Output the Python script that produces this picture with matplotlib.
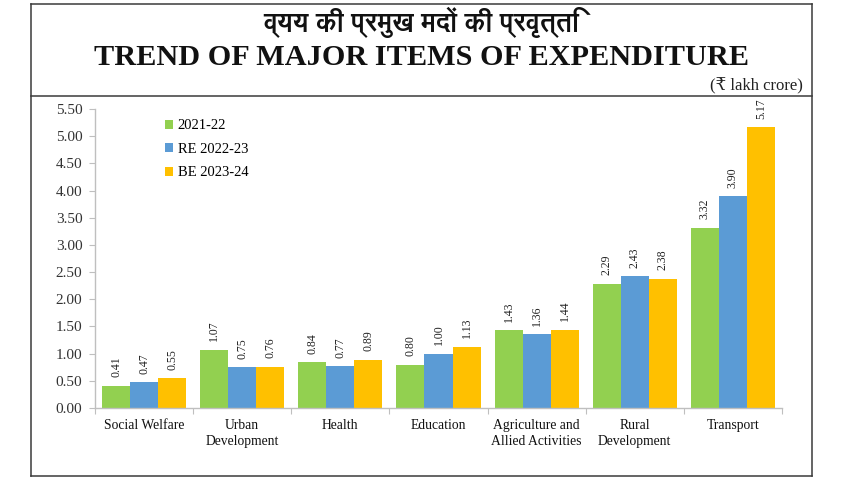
import matplotlib
matplotlib.use("Agg")
import matplotlib.pyplot as plt
from matplotlib import font_manager
from matplotlib.ft2font import FT2Font
from matplotlib.patches import Patch
from matplotlib.lines import Line2D
import numpy as np

categories = ["Social Welfare", "Urban\nDevelopment", "Health", "Education",
              "Agriculture and\nAllied Activities", "Rural\nDevelopment", "Transport"]
series_names = ["2021-22", "RE 2022-23", "BE 2023-24"]
v_2021 = [0.41, 1.07, 0.84, 0.80, 1.43, 2.29, 3.32]
v_re2223 = [0.47, 0.75, 0.77, 1.00, 1.36, 2.43, 3.90]
v_be2324 = [0.55, 0.76, 0.89, 1.13, 1.44, 2.38, 5.17]
yticks = [0.00, 0.50, 1.00, 1.50, 2.00, 2.50, 3.00, 3.50, 4.00, 4.50, 5.00, 5.50]
title_hi = "व्यय की प्रमुख मदों की प्रवृत्ति"
title_en = "TREND OF MAJOR ITEMS OF EXPENDITURE"
unit_text = "(₹ lakh crore)"

colors = ["#92D050", "#5B9BD5", "#FFC000"]

def find_font(ch):
    best = None
    for f in font_manager.fontManager.ttflist:
        try:
            ft = FT2Font(f.fname)
            if ord(ch) in ft.get_charmap():
                if f.weight in ("bold", 700) or (isinstance(f.weight, int) and f.weight >= 600):
                    return f.name
                if best is None:
                    best = f.name
        except Exception:
            pass
    return best

deva = find_font("व")
serif = ["Liberation Serif", "DejaVu Serif", "DejaVu Sans"]
hi_family = ([deva] if deva else []) + ["DejaVu Sans"]

plt.rcParams["font.family"] = serif

fig = plt.figure(figsize=(8.5, 4.78), dpi=100)
W, H = 850, 478

def fx(x):
    return x / W

def fy(y):
    return 1 - y / H

# frame
frame_col = "#3a3a3a"
for (x0, y0, x1, y1) in [(31, 4, 812, 4), (31, 476, 812, 476), (31, 4, 31, 476),
                         (812, 4, 812, 476), (31, 96, 812, 96)]:
    fig.add_artist(Line2D([fx(x0), fx(x1)], [fy(y0), fy(y1)], color=frame_col,
                          lw=1.1, transform=fig.transFigure))

fig.text(fx(421), fy(22), title_hi, ha="center", va="center", fontsize=19,
         fontweight="bold", family=hi_family, color="#111111")
fig.text(fx(421), fy(57.5), title_en, ha="center", va="center", fontsize=21.8,
         fontweight="bold", color="#111111")
fig.text(fx(803), fy(86), unit_text, ha="right", va="center", fontsize=12,
         family=serif, color="#222222")

ax = fig.add_axes([fx(95), fy(408), fx(782) - fx(95), fy(109) - fy(408)])

x = np.arange(len(categories))
bw = 0.286
series = [v_2021, v_re2223, v_be2324]
for i, (vals, c, name) in enumerate(zip(series, colors, series_names)):
    pos = x + (i - 1) * bw
    bars = ax.bar(pos, vals, width=bw, color=c, label=name, zorder=2)
    for b, v in zip(bars, vals):
        ax.annotate(f"{v:.2f}", (b.get_x() + b.get_width() / 2, v),
                    xytext=(0, 6), textcoords="offset points", rotation=90,
                    ha="center", va="bottom", fontsize=8.5, color="#222222")

ax.set_xlim(-0.5, len(categories) - 0.5)
ax.set_ylim(0, 5.5)
ax.set_yticks(yticks)
ax.set_yticklabels([f"{t:.2f}" for t in yticks], fontsize=11, color="#333333")
ax.set_xticks(x)
ax.set_xticklabels(categories, fontsize=9.8, color="#111111", linespacing=1.25)
ax.set_xticks(np.arange(-0.5, len(categories), 1.0), minor=True)
ax.tick_params(axis="x", which="major", length=0, pad=8)
ax.tick_params(axis="x", which="minor", length=4, color="#BFBFBF", width=0.8)
ax.tick_params(axis="y", length=4, color="#BFBFBF", width=0.8, pad=5)
for s in ("top", "right"):
    ax.spines[s].set_visible(False)
for s in ("left", "bottom"):
    ax.spines[s].set_color("#BFBFBF")
    ax.spines[s].set_linewidth(1.0)

handles = [Patch(facecolor=c, edgecolor="none") for c in colors]
leg = ax.legend(handles, series_names, loc="upper left", bbox_to_anchor=(0.093, 0.985),
                frameon=False, fontsize=10.5, handlelength=0.6, handleheight=0.6,
                handletextpad=0.3, labelspacing=0.72, borderaxespad=0.0)

fig.savefig("out.png", dpi=100)
